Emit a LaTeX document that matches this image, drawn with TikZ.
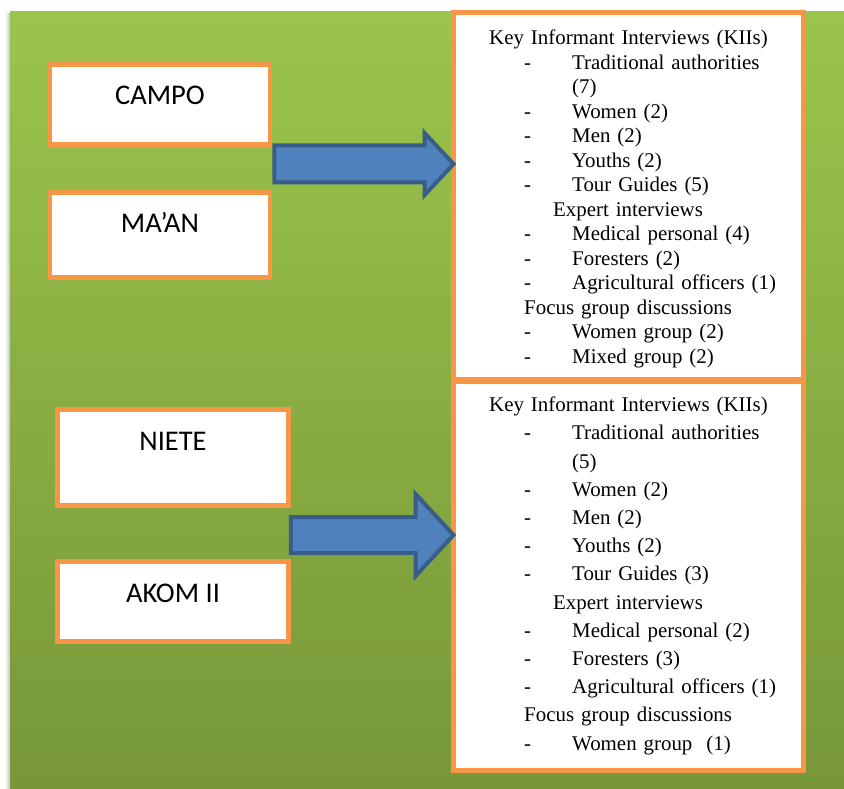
\documentclass[tikz,border=0pt]{standalone}
\usepackage{fontspec}
\setmainfont{Liberation Serif}
\newfontfamily\sitefont{Carlito}
\definecolor{mygreen}{RGB}{156,196,75}
\definecolor{mydarkgreen}{RGB}{119,151,57}
\definecolor{myorange}{RGB}{247,150,70}
\definecolor{myblue}{RGB}{79,129,189}
\definecolor{mydarkblue}{RGB}{56,93,138}
\usetikzlibrary{positioning,calc}
\newcommand{\kitem}[1]{\hspace*{35pt}\makebox[48pt][l]{-}#1}
\newcommand{\kcont}[1]{\hspace*{83pt}#1}

\begin{document}
\begin{tikzpicture}[x=1pt,y=-1pt,
    sitenode/.style={draw=myorange,fill=white,line width=4.5pt,inner sep=0pt,
      minimum width=220pt,text height=40.5pt,font=\sitefont\fontsize{28.5}{30}\selectfont},
    kiibox/.style={draw=myorange,fill=white,line width=5pt,inner sep=0pt,minimum width=350pt},
    listnode/.style={inner sep=0pt,text width=330pt,align=left},
    bluearrow/.style={fill=myblue,draw=mydarkblue,line width=4pt,line join=miter}
    ]
    \useasboundingbox (0,0) rectangle (844,789);

    % the background
    \shade[left color=white,right color=black!25] (5,14) rectangle (10,789);
    \shade[top color=mygreen,bottom color=mydarkgreen] (10,12) rectangle (844,789);

    \node (campo) [sitenode,text depth=39.5pt] at (160,104.5) {CAMPO};
    \node (maan) [sitenode,text depth=44.5pt,node distance=130.5pt,below of=campo] {MA’AN};
    \node (niete) [sitenode,minimum width=231pt,text depth=55.5pt] at (173,457.5) {NIETE};
    \node (akom) [sitenode,minimum width=231pt,text depth=39.5pt,node distance=144pt,below of=niete] {AKOM II};

    \node (kii1) [kiibox,minimum height=367pt] at (628.5,196) {};
    \node (kii2) [kiibox,minimum height=389.5pt,node distance=379.75pt,below of=kii1] {};

    \node (list1) [listnode,anchor=base west,font=\fontsize{20.9}{24.5}\selectfont]
      at ($(kii1.north west)+(38,35)$) {Key Informant Interviews (KIIs)\\
      \kitem{Traditional authorities}\\
      \kcont{(7)}\\
      \kitem{Women (2)}\\
      \kitem{Men (2)}\\
      \kitem{Youths (2)}\\
      \kitem{Tour Guides (5)}\\
      \hspace*{64pt}Expert interviews\\
      \kitem{Medical personal (4)}\\
      \kitem{Foresters (2)}\\
      \kitem{Agricultural officers (1)}\\
      \hspace*{35pt}Focus group discussions\\
      \kitem{Women group (2)}\\
      \kitem{Mixed group (2)}};
    \node (list2) [listnode,anchor=base west,font=\fontsize{20.9}{28.2}\selectfont]
      at ($(kii2.north west)+(38,33.2)$) {Key Informant Interviews (KIIs)\\
      \kitem{Traditional authorities}\\
      \kcont{(5)}\\
      \kitem{Women (2)}\\
      \kitem{Men (2)}\\
      \kitem{Youths (2)}\\
      \kitem{Tour Guides (3)}\\
      \hspace*{64pt}Expert interviews\\
      \kitem{Medical personal (2)}\\
      \kitem{Foresters (3)}\\
      \kitem{Agricultural officers (1)}\\
      \hspace*{35pt}Focus group discussions\\
      \kitem{Women group\ \ (1)}};

    % the arrows
    \coordinate (tip1) at ($(kii1.west)+(2.5,-32)$);
    \coordinate (tip2) at ($(kii2.west)+(2.5,-40.75)$);
    \draw[bluearrow] ($(campo.east |- tip1)+(2,-18.5)$) -- ($(tip1)+(-29,-18.5)$)
      -- ($(tip1)+(-29,-31)$) -- (tip1) -- ($(tip1)+(-29,31)$)
      -- ($(tip1)+(-29,18.5)$) -- ($(campo.east |- tip1)+(2,18.5)$) -- cycle;
    \draw[bluearrow] ($(niete.east |- tip2)+(0,-18)$) -- ($(tip2)+(-38,-18)$)
      -- ($(tip2)+(-38,-41)$) -- (tip2) -- ($(tip2)+(-38,41)$)
      -- ($(tip2)+(-38,18)$) -- ($(niete.east |- tip2)+(0,18)$) -- cycle;
\end{tikzpicture}
\end{document}
